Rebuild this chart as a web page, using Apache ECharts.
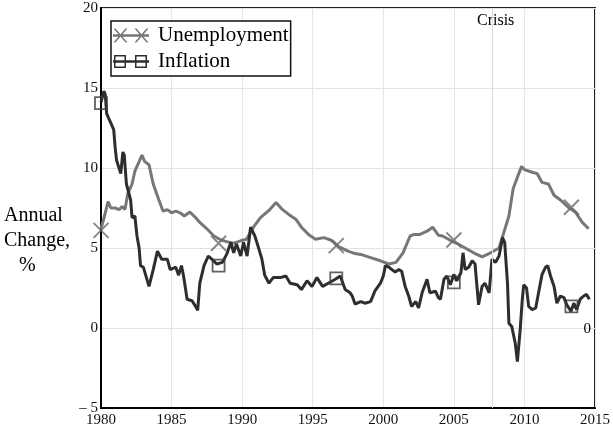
<!DOCTYPE html>
<html>
<head>
<meta charset="utf-8">
<script src="https://cdn.jsdelivr.net/npm/echarts@6/dist/echarts.min.js"></script>
<style>
  html, body { margin: 0; padding: 0; background: #fff; }
  #main { width: 613px; height: 433px; }
</style>
</head>
<body>
<div id="main"></div>
<script>
// unemployment rate, %
const unempYears = [1980.0, 1980.25, 1980.5, 1980.7, 1981.0, 1981.3, 1981.5, 1981.7, 1981.9, 1982.2,
  1982.4, 1982.7, 1982.9, 1983.1, 1983.4, 1983.7, 1984.1, 1984.4, 1984.7, 1985.0,
  1985.3, 1985.6, 1985.9, 1986.3, 1986.7, 1987.0, 1987.5, 1988.0, 1988.5, 1988.9,
  1989.4, 1989.9, 1990.3, 1990.8, 1991.3, 1991.9, 1992.4, 1992.8, 1993.3, 1993.8,
  1994.2, 1994.7, 1995.2, 1995.8, 1996.4, 1996.8, 1997.5, 1998.0, 1998.4, 1999.1,
  1999.8, 2000.4, 2000.9, 2001.4, 2001.9, 2002.2, 2002.6, 2003.1, 2003.5, 2003.9,
  2004.2, 2004.8, 2005.3, 2005.8, 2006.4, 2007.0, 2007.6, 2008.2, 2008.5, 2008.9,
  2009.2, 2009.6, 2009.8, 2010.0, 2010.5, 2010.9, 2011.25, 2011.7, 2012.1, 2012.55,
  2013.1, 2013.6, 2014.1, 2014.55];
const unempRate = [6.2, 7.0, 7.9, 7.5, 7.5, 7.4, 7.6, 7.4, 8.4, 9.0,
  9.8, 10.4, 10.8, 10.4, 10.2, 9.0, 8.0, 7.3, 7.4, 7.2,
  7.3, 7.2, 7.0, 7.25, 6.9, 6.6, 6.2, 5.75, 5.5, 5.4,
  5.3, 5.45, 5.55, 6.3, 6.9, 7.35, 7.85, 7.45, 7.1, 6.8,
  6.3, 5.85, 5.55, 5.65, 5.45, 5.1, 4.8, 4.65, 4.6, 4.4,
  4.2, 4.0, 4.1, 4.7, 5.75, 5.85, 5.85, 6.05, 6.3, 5.8,
  5.75, 5.45, 5.25, 5.0, 4.7, 4.45, 4.7, 5.0, 5.85, 7.0,
  8.7, 9.65, 10.1, 9.9, 9.75, 9.65, 9.1, 9.0, 8.3, 8.0,
  7.55, 7.25, 6.6, 6.2];

// inflation, annual change %
const inflYears = [1980.0, 1980.2, 1980.3, 1980.4, 1980.7, 1980.9, 1981.0, 1981.1, 1981.4, 1981.55,
  1981.65, 1981.8, 1982.1, 1982.2, 1982.4, 1982.55, 1982.7, 1982.8, 1983.0, 1983.1,
  1983.4, 1983.5, 1983.7, 1984.0, 1984.3, 1984.7, 1984.9, 1985.3, 1985.5, 1985.7,
  1985.85, 1986.1, 1986.45, 1986.7, 1986.85, 1987.0, 1987.3, 1987.6, 1987.85, 1988.2,
  1988.6, 1988.9, 1989.2, 1989.4, 1989.6, 1989.9, 1990.1, 1990.35, 1990.6, 1990.9,
  1991.2, 1991.4, 1991.6, 1991.9, 1992.2, 1992.7, 1993.1, 1993.4, 1993.9, 1994.2,
  1994.6, 1994.95, 1995.3, 1995.7, 1996.1, 1996.6, 1996.95, 1997.3, 1997.65, 1997.8,
  1998.0, 1998.4, 1998.7, 1999.1, 1999.4, 1999.8, 2000.0, 2000.15, 2000.4, 2000.6,
  2000.85, 2001.1, 2001.3, 2001.55, 2001.8, 2002.0, 2002.3, 2002.5, 2002.75, 2003.1,
  2003.3, 2003.7, 2003.9, 2004.05, 2004.3, 2004.5, 2004.75, 2005.0, 2005.2, 2005.5,
  2005.65, 2005.8, 2006.05, 2006.3, 2006.5, 2006.75, 2007.0, 2007.2, 2007.5, 2007.7,
  2007.95, 2008.2, 2008.45, 2008.6, 2008.8, 2008.9, 2009.1, 2009.35, 2009.5, 2009.7,
  2009.85, 2009.95, 2010.15, 2010.3, 2010.55, 2010.8, 2011.0, 2011.25, 2011.5, 2011.65,
  2011.85, 2012.1, 2012.3, 2012.55, 2012.8, 2013.0, 2013.3, 2013.5, 2013.7, 2013.95,
  2014.2, 2014.4, 2014.6];
const inflRate = [14.1, 14.8, 14.6, 13.4, 12.8, 12.4, 11.3, 10.5, 9.65, 11.0,
  10.8, 9.0, 8.0, 6.9, 7.0, 5.75, 5.0, 3.9, 3.8, 3.9,
  2.6, 2.7, 3.65, 4.8, 4.3, 4.3, 3.65, 3.8, 3.3, 3.9,
  3.25, 1.8, 1.7, 1.35, 1.1, 2.8, 3.9, 4.5, 4.3, 4.0,
  4.1, 4.6, 5.35, 4.7, 5.25, 4.5, 5.35, 4.5, 6.3, 5.75,
  4.9, 4.3, 3.3, 2.8, 3.15, 3.15, 3.25, 2.8, 2.7, 2.4,
  2.95, 2.6, 3.15, 2.6, 2.8, 3.05, 3.25, 2.4, 2.2, 2.0,
  1.5, 1.65, 1.55, 1.65, 2.3, 2.8, 3.25, 3.9, 3.8, 3.65,
  3.5, 3.65, 3.55, 2.6, 2.0, 1.35, 1.65, 1.25, 2.2, 3.05,
  2.2, 2.3, 1.9, 1.8, 3.05, 3.25, 2.7, 3.35, 2.95, 3.45,
  4.7, 3.65, 3.8, 4.2, 4.0, 1.45, 2.6, 2.8, 2.2, 4.3,
  4.1, 4.5, 5.65, 5.35, 2.8, 0.3, 0.1, -0.95, -2.1, -0.1,
  1.8, 2.7, 2.5, 1.35, 1.15, 1.25, 2.2, 3.35, 3.8, 3.9,
  3.25, 2.6, 1.55, 2.0, 1.9, 1.45, 1.05, 1.55, 1.15, 1.8,
  2.0, 2.1, 1.8];

// symbols are drawn every 100 months
const markYears = [1980.0, 1988.33, 1996.67, 2005.0, 2013.33];
const unempMarks = [6.1, 5.3, 5.15, 5.5, 7.55];
const inflMarks = [14.05, 3.9, 3.1, 2.85, 1.35];

const crisisYear = 2007.75;

const serif = "'Liberation Serif', 'Times New Roman', serif";
const unempColor = '#777777';
const inflColor = '#2e2e2e';

// legend icons: line with two markers
const unempIcon = 'path://M0,5.8L36,5.8L36,8.2L0,8.2Z' +
  'M0.5,0L2.5,0L14.5,14L12.5,14Z M12.5,0L14.5,0L2.5,14L0.5,14Z' +
  'M21.5,0L23.5,0L35.5,14L33.5,14Z M33.5,0L35.5,0L23.5,14L21.5,14Z';
const inflIcon = 'path://M0,5.8L36,5.8L36,8.2L0,8.2Z' +
  'M1,0.5L13,0.5L13,13.5L1,13.5Z M2.5,2L2.5,12L11.5,12L11.5,2Z' +
  'M22,0.5L34,0.5L34,13.5L22,13.5Z M23.5,2L23.5,12L32.5,12L32.5,2Z';

let myChart = echarts.init(document.getElementById('main'));

let option = {
  backgroundColor: '#fff',
  animation: false,
  grid: {
    left: 101,
    right: 18,
    top: 8,
    bottom: 25,
    show: true,
    borderColor: '#222',
    borderWidth: 2
  },
  legend: {
    orient: 'vertical',
    left: 111,
    top: 21,
    padding: [4, 2, 4, 2],
    itemGap: 5,
    itemWidth: 36,
    itemHeight: 14,
    backgroundColor: '#fff',
    borderColor: '#111',
    borderWidth: 1.5,
    textStyle: {
      fontFamily: serif,
      fontSize: 21,
      color: '#000',
      padding: [0, 0, 0, 4]
    },
    data: [
      { name: 'Unemployment', icon: unempIcon, itemStyle: { color: unempColor, borderWidth: 0 } },
      { name: 'Inflation', icon: inflIcon, itemStyle: { color: inflColor, borderWidth: 0 } }
    ]
  },
  xAxis: {
    type: 'value',
    min: 1980,
    max: 2015,
    interval: 5,
    axisLine: { onZero: false, lineStyle: { color: '#000', width: 2 } },
    axisTick: { show: false },
    axisLabel: {
      fontFamily: serif,
      fontSize: 15,
      color: '#111',
      margin: 5,
      formatter: v => String(v)
    },
    splitLine: { show: true, lineStyle: { color: '#e6e6e6', width: 1 } }
  },
  yAxis: {
    type: 'value',
    min: -5,
    max: 20,
    interval: 5,
    axisLine: { show: true, onZero: false, lineStyle: { color: '#000', width: 2 } },
    axisTick: { show: false },
    axisLabel: {
      fontFamily: serif,
      fontSize: 15,
      color: '#111',
      margin: 3,
      formatter: v => (v < 0 ? '\u2013 ' + Math.abs(v) : String(v))
    },
    splitLine: { show: true, lineStyle: { color: '#e2e2e2', width: 1 } }
  },
  series: [
    {
      name: 'Unemployment',
      type: 'line',
      data: unempYears.map((y, i) => [y, unempRate[i]]),
      showSymbol: false,
      symbol: 'none',
      lineStyle: { color: unempColor, width: 3 },
      itemStyle: { color: unempColor },
      z: 3,
      markLine: {
        silent: true,
        symbol: 'none',
        label: { show: false },
        lineStyle: { color: '#dcdcdc', width: 1, type: 'solid' },
        data: [{ xAxis: crisisYear }]
      }
    },
    {
      name: 'Inflation',
      type: 'line',
      data: inflYears.map((y, i) => [y, inflRate[i]]),
      showSymbol: false,
      symbol: 'none',
      lineStyle: { color: inflColor, width: 3 },
      itemStyle: { color: inflColor },
      z: 4
    },
    {
      name: 'Unemployment marks',
      type: 'scatter',
      data: markYears.map((y, i) => [y, unempMarks[i]]),
      symbol: 'path://M0,0L14,14M14,0L0,14',
      symbolSize: 15,
      itemStyle: { color: 'none', borderColor: '#6a6a6a', borderWidth: 2 },
      z: 5,
      silent: true
    },
    {
      name: 'Inflation marks',
      type: 'scatter',
      data: markYears.map((y, i) => [y, inflMarks[i]]),
      symbol: 'rect',
      symbolSize: 12,
      itemStyle: { color: 'transparent', borderColor: '#3a3a3a', borderWidth: 1.8 },
      z: 5,
      silent: true
    }
  ]
};

option && myChart.setOption(option);

// text notes placed through the chart's own scales
let crisisPos = myChart.convertToPixel({ gridIndex: 0 }, [crisisYear, 20]);
let zeroPos = myChart.convertToPixel({ gridIndex: 0 }, [2015, 0]);
myChart.setOption({
  graphic: [
    {
      type: 'text',
      left: 4,
      top: 203,
      style: {
        text: 'Annual\nChange,\n   %',
        fontFamily: serif,
        fontSize: 20,
        lineHeight: 25,
        fill: '#000'
      }
    },
    {
      type: 'text',
      x: crisisPos[0] + 3,
      y: crisisPos[1] + 13,
      style: {
        text: 'Crisis',
        fontFamily: serif,
        fontSize: 16,
        fill: '#000',
        align: 'center',
        verticalAlign: 'middle'
      }
    },
    {
      type: 'text',
      x: zeroPos[0] - 4,
      y: zeroPos[1] + 1,
      style: {
        text: '0',
        fontFamily: serif,
        fontSize: 15,
        fill: '#000',
        align: 'right',
        verticalAlign: 'middle'
      }
    }
  ]
});
</script>
</body>
</html>
